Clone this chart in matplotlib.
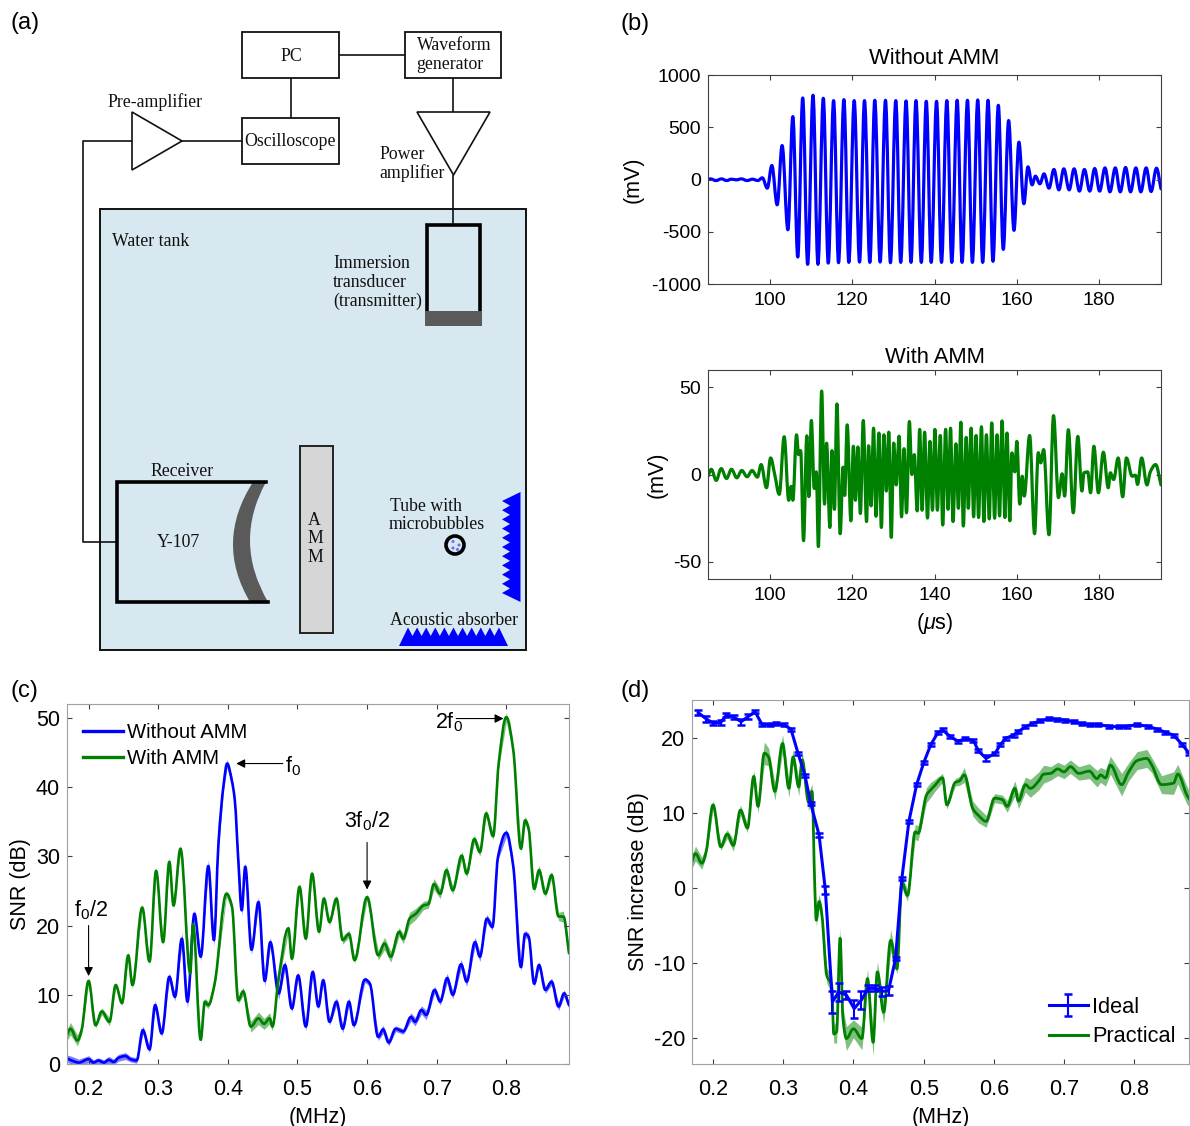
import matplotlib
matplotlib.use('Agg')
import matplotlib.pyplot as plt
from matplotlib.container import ErrorbarContainer
from matplotlib.legend_handler import HandlerErrorbar
from matplotlib.lines import Line2D
from matplotlib.patches import Polygon, Rectangle, Circle, PathPatch
from matplotlib.path import Path

W, H = 1190, 1126
BLUE = '#0000ff'
GREEN = '#008000'
BOX = '#404040'

plt.rcParams['font.family'] = ['Liberation Sans', 'DejaVu Sans']
plt.rcParams['mathtext.fontset'] = 'custom'
plt.rcParams['mathtext.rm'] = 'Liberation Sans'
plt.rcParams['mathtext.it'] = 'Liberation Sans:italic'
plt.rcParams['mathtext.default'] = 'regular'
plt.rcParams['axes.unicode_minus'] = False

# (b) time traces, extrema
without_t = [85, 85.6, 86.9, 88.3, 89.5, 90.7, 91.9, 93.1, 94.5, 95.8, 97.1, 98.2, 99.4, 100.5, 101.8, 103, 104.4, 105.6,
             106.8, 108, 109.2, 110.5, 111.7, 113, 114.2, 115.5, 116.7, 118, 119.2, 120.5, 121.8, 123, 124.3, 125.5,
             126.8, 128.1, 129.3, 130.6, 131.8, 133.1, 134.3, 135.5, 136.8, 138, 139.2, 140.5, 141.7, 143, 144.2,
             145.5, 146.7, 148, 149.2, 150.5, 151.7, 153, 154.2, 155.5, 156.7, 158, 159.3, 160.5, 161.7, 162.7, 163.7,
             164.5, 165.6, 166.6, 167.8, 169, 170.2, 171.4, 172.7, 173.9, 175.2, 176.4, 177.7, 178.9, 180.1, 181.4,
             182.6, 183.9, 185.1, 186.4, 187.6, 188.9, 190.1, 191.4, 192.6, 193.9, 195]
without_mv = [0, 6, -10, 6, -10, 3, -3, 6, -10, 3, -10, 16, -83, 134, -242, 325, -481, 602,
              -742, 780, -812, 806, -812, 777, -800, 755, -796, 764, -793, 755, -790, 755, -793, 758,
              -790, 758, -796, 755, -793, 752, -793, 755, -793, 748, -793, 748, -793, 755, -793,
              758, -793, 758, -793, 761, -793, 758, -783, 710, -669, 564, -487, 357, -232, 121, -51,
              32, -41, 54, -83, 96, -99, 102, -99, 102, -111, 96, -111, 105, -111, 111,
              -118, 111, -118, 115, -118, 111, -118, 111, -115, 108, -89]

with_t = [85, 85.8, 87, 88.2, 89.5, 90.7, 92, 93.2, 94.5, 95.7, 97, 97.9, 99.2, 100.2, 101.2, 102.3, 103.5, 104.6, 105.2,
          105.6, 106.5, 107, 107.5, 108.2, 109, 109.5, 110.1, 110.8, 111.3, 111.8, 112.6, 113.3, 113.8, 114.6, 115.1,
          115.7, 116.3, 117.1, 117.8, 118.2, 118.8, 119.7, 120.3, 120.8, 121.4, 122, 122.7, 123.5, 124, 124.6, 125.2,
          125.8, 126.5, 127.1, 127.7, 128.3, 128.9, 129.5, 130.1, 130.7, 131.4, 132, 132.6, 133.2, 133.9, 134.5, 135.1,
          135.8, 136.4, 137, 137.6, 138.3, 138.9, 139.5, 140.1, 140.7, 141.4, 142, 142.7, 143.3, 143.9, 144.5, 145.2,
          145.8, 146.4, 147, 147.7, 148.2, 148.9, 149.5, 150.1, 150.7, 151.4, 152, 152.6, 153.3, 153.9, 154.6, 155.2,
          155.8, 156.4, 157.1, 157.6, 158.3, 158.8, 159.5, 160, 160.7, 161.3, 161.8, 163.1, 164.3, 165.2, 165.8, 166.5,
          167.8, 168.9, 170.1, 171, 171.6, 172.5, 173.7, 174.8, 175.8, 176.3, 177.2, 177.9, 178.7, 179.8, 181, 182.2,
          182.7, 183.5, 184.6, 185.7, 186.6, 188, 188.8, 189.3, 190.3, 191.6, 192.4, 193.7, 195]
with_mv = [-1, 3, -3.4, 3.4, -2.3, 3, -1.9, 2.3, -1.3, 2.3, -1.5, 5.7, -7.6, 9.5, 0, -11.4, 21.7, -14.8, -6.8,
           -14.8, 22.8, 11.4, 13.7, -38, 22.2, -12.7, 31, -8, 1.5, -41.4, 47.9, -17, 18, -30.4, 13.7,
           -20, 40.5, -34, 4.2, -12, 28.5, -26.6, 16.2, -14.8, 15.8, -22.4, 31, -27, 16.5, -18, 26.6,
           -24, 23.8, -30.4, 22.8, -9.5, 24.3, -36.1, 18, -6, 22, -24.3, 14.8, -22, 30.4, 0, 11.4,
           -20.9, 25.9, -20.5, 24.3, -25, 19, -20.5, 25.9, -20.5, 22.4, -29, 25.9, -20, 26.6, -27, 17.6,
           -19.4, 30, -29.6, 21.3, -19.4, 26.6, -24.3, 22.4, -24.7, 27.4, -27, 22.8, -25.5, 29.6, -25.1, 22.8,
           -23.8, 30.8, -24.7, 23.8, -26.6, 12.4, 1.5, 19, -17, -1, -12.4, 22.4, -34, 12.5, 6.7, 14.3,
           -34.6, 33.8, -13.3, 0.4, -12.4, 25.7, -22, 21.9, -9.5, 1, 1.5, -10.5, 16.2, -10.5, 12.8, -7.6,
           1, -2.9, 9.5, -12.8, 9.5, -1, -0.4, -5.7, 9.5, -6, 1.5, 5.7, -6]

# (c) SNR spectra
snr_without_f = [.169, .176, .186, .2, .207, .214, .222, .229, .236, .243,
                 .253, .26, .269, .278, .2875, .2956, .305, .316, .324, .334,
                 .342, .352, .361, .372, .38, .3865, .394, .399, .4056, .41, .415, .42, .425, .434,
                 .444, .453, .461, .473, .482, .492, .501, .512, .522, .53,
                 .537, .546, .556, .565, .574, .581, .597, .604, .616, .623,
                 .631, .641, .652, .663, .669, .678, .685, .697, .705, .715,
                 .723, .735, .743, .755, .762, .772, .78, .788, .8, .81,
                 .821, .827, .832, .84, .847, .856, .865, .875, .883, .89]
snr_without = [.8, .5, .2, .7, .2, .5, .2, .6, .3, .9,
               1.15, .7, .5, 4.9, 2.1, 8.5, 4.4, 12.6, 9.7, 18.1,
               9, 21.7, 15.5, 28.6, 17.9, 31.8, 40.4, 43.4, 41, 38.1, 29.5, 22.2, 28.5, 16.5,
               23.4, 12, 17.6, 10.2, 14.3, 8, 12.8, 5.4, 13.3, 8.3,
               12.1, 6.1, 9, 5.1, 9, 5.6, 12.2, 11.6, 3.9, 5,
               3.1, 5.1, 4.7, 6.8, 6.1, 7.8, 7.1, 10.7, 9, 12.4,
               10, 14.4, 11.9, 17.6, 15.5, 21, 19.8, 29.9, 33.4, 28.5,
               14, 18.8, 18.4, 11.6, 14.3, 10.7, 11.9, 8.3, 10.2, 8.5]
snr_without_err = [.5, .6, .5, .5, .4, .4, .4, .5, .4, .5,
                   .5, .4, .4, .6, .5, .7, .5, .6, .6, .9,
                   1, .6, .6, .9, 1, .7, .6, .6, .6, .6, .8, .8, .6, .7,
                   .7, .8, .7, .9, .7, .5, .5, .6, .5, .5,
                   .5, .5, .6, .6, .6, .5, .4, .4, .5, .6,
                   .5, .4, .4, .6, .6, .6, .7, .5, .5, .7,
                   .6, .7, .7, .7, .7, .6, .5, .4, .6, .5,
                   .6, .5, .5, .5, .5, .5, .5, .6, .5, .5]

snr_with_f = [.169, .174, .184, .19, .2, .21, .219, .23, .239, .248,
              .257, .263, .277, .2875, .297, .307, .316, .322, .332, .346,
              .35, .361, .367, .372, .381, .398, .406, .415, .422, .433,
              .444, .452, .46, .464, .473, .487, .492, .503, .512, .521,
              .531, .538, .546, .556, .565, .574, .582, .6, .616, .625,
              .634, .646, .652, .661, .67, .681, .688, .696, .705, .714,
              .723, .736, .743, .754, .762, .771, .781, .789, .8, .81,
              .821, .827, .832, .84, .847, .856, .865, .875, .882, .89]
snr_with = [4.2, 5.1, 3.4, 4.9, 12, 5.6, 7.6, 6.1, 11.4, 8.8,
            15.7, 11.4, 22.6, 14.8, 27.9, 17.6, 29.2, 22.9, 31.1, 13.1,
            20.2, 3.5, 9, 8.5, 11.6, 24.6, 22.7, 9.2, 10.5, 5.4,
            6.6, 5.8, 6.6, 5.4, 12.4, 19.6, 15.2, 25.6, 18.1, 27.5,
            19.1, 23.9, 20.5, 23.9, 17.9, 18.8, 15, 24.1, 15.7, 17.4,
            15.5, 19.1, 18.1, 21, 21.7, 22.9, 23.1, 26, 24.6, 28,
            25.1, 30.1, 27.5, 32.5, 30.6, 36.2, 32.9, 43.4, 50.1, 45.3,
            31.1, 35.2, 34, 25.3, 28, 24.6, 27.3, 21.3, 21.3, 16]
snr_with_err = [.8, .9, .8, .6, .4, .4, .5, .6, .4, .4,
                .5, .5, .5, .5, .5, .5, .6, .5, .5, .5,
                .5, .5, .5, .5, .5, .5, .5, .5, .6, .8,
                .9, .8, .8, .6, .5, .5, .5, .5, .5, .5,
                .5, .5, .5, .5, .6, .5, .5, .5, .7, .9,
                .8, .6, .7, .9, .8, .6, .6, .8, .7, .7,
                .6, .6, .6, .6, .6, .6, .5, .5, .7, .5,
                .5, .6, .5, .6, .7, .5, .6, .6, .8, .8]

# (d) SNR increase
ideal_f = [.179, .19, .2, .211, .219, .23, .24, .25, .26, .27,
           .281, .29, .301, .311, .321, .331, .339, .351, .36, .37,
           .379, .39, .401, .411, .421, .431, .441, .45, .46, .469,
           .479, .49, .5, .51, .52, .527, .538, .549, .559, .571,
           .578, .589, .602, .609, .617, .628, .635, .645, .656, .666,
           .678, .69, .702, .714, .726, .737, .749, .764, .778, .79,
           .804, .819, .833, .844, .856, .868, .878]
ideal = [23.4, 22.6, 22, 22.1, 23.1, 22.8, 22.2, 22.9, 23.5, 21.8,
         21.8, 21.9, 21.8, 21.2, 18, 15, 11.3, 7.1, -.3, -15.2,
         -13.9, -14.3, -16.1, -15, -13.4, -13.4, -13.8, -13.7, -9.4, 1.3,
         8.9, 13.8, 16.7, 19.1, 20.7, 21.1, 20.2, 19.6, 19.9, 19.7,
         18.3, 17.3, 18, 19.1, 20, 20.4, 20.9, 21.5, 22, 22.3,
         22.6, 22.5, 22.4, 22.2, 21.9, 21.8, 21.8, 21.6, 21.5, 21.6,
         21.8, 21.6, 21.2, 20.8, 20.4, 19.2, 18]
ideal_err = [.3, .4, .3, .3, .3, .3, .4, .3, .2, .2,
             .2, .2, .2, .2, .2, .2, .2, .3, .5, 1.5,
             1.2, .5, 1.2, 1.2, .4, .4, .6, .6, .2, .2,
             .2, .2, .2, .2, .2, .2, .2, .2, .2, .2,
             .2, .4, .2, .2, .2, .2, .2, .2, .2, .2,
             .2, .2, .2, .2, .2, .2, .2, .2, .2, .2,
             .2, .2, .2, .2, .2, .2, .2]

practical_f = [.169, .175, .184, .19, .2, .211, .22, .229, .239, .249,
               .258, .264, .273, .279, .288, .299, .308, .314, .322, .327,
               .336, .341, .345, .347, .351, .355, .362, .369, .372, .376,
               .381, .385, .39, .4, .412, .42, .428, .434, .443, .453,
               .462, .469, .477, .488, .492, .504, .51, .516, .527, .533,
               .545, .551, .558, .57, .578, .589, .601, .612, .619, .63,
               .635, .645, .652, .664, .671, .681, .691, .7, .709, .721,
               .736, .747, .752, .759, .766, .782, .792, .804, .818, .825,
               .839, .856, .862, .875, .879]
practical = [3.3, 4.6, 3.3, 4.8, 11.1, 5.5, 7.2, 5.7, 10.4, 8,
             14.9, 10.9, 18, 17.5, 12.9, 19.3, 13.3, 17.5, 13.5, 17.1,
             11.5, 12.9, -.1, -4.3, -1.8, -3.6, -11.7, -13, -19.5, -19.2,
             -6.7, -17.4, -20.1, -18.8, -20.1, -12.1, -20.6, -11.2, -16.6, -7,
             -10.8, .8, -1, 7.5, 7.3, 12.4, 13.1, 13.7, 14.7, 11.1,
             14.1, 14.3, 15.1, 10.6, 9.7, 8.9, 12, 11.8, 10.9, 13.3,
             11.6, 13.8, 13.3, 14.3, 15.2, 15.3, 15.9, 15.5, 16.2, 15.3,
             15.6, 14.6, 15.1, 14.7, 16.4, 13.8, 15.5, 17, 17.3, 16.4,
             13.8, 14, 15.2, 12.4, 11.8]
practical_err = [.8, 1, .8, .6, .6, .5, .6, .8, .7, .6,
                 .8, .9, 1.5, 1.2, 1.2, 1.2, 1.2, 1, 1.2, 1.1,
                 1.2, 1, .8, .8, 1, 1, 1, 1.2, 1.2, 1.5,
                 1.4, 1.5, 1.6, 1.2, 1.5, 1.3, 1.8, 1.4, 1.5, 1.5,
                 .7, .8, .8, 1, 1, 1, 1, .8, .6, .6,
                 .5, .6, 1, 1, 1, .8, .6, .6, .8, 1,
                 1, 1, 1.2, 1.2, 1.2, .9, .9, .9, .9, .9,
                 1, 1.1, 1, 1.1, 1.2, 1.5, 1.2, 1.2, 1.2, 1,
                 1.2, 1.5, 1.3, 1.2, 1]


def px_axes(left, top, right, bottom):
    return fig.add_axes([left / W, 1 - bottom / H, (right - left) / W, (bottom - top) / H])


def style_axes(ax, box=BOX, size=14, xpad=6):
    for s in ax.spines.values():
        s.set_color(box)
        s.set_linewidth(0.8)
    ax.tick_params(direction='in', top=True, right=True, length=3.5, width=0.8, color=BOX,
                   labelsize=size, pad=5)
    ax.tick_params(axis='x', pad=xpad)


def band(ax, f, v, e, color):
    lo = [a - b for a, b in zip(v, e)]
    hi = [a + b for a, b in zip(v, e)]
    ax.fill_between(f, lo, hi, color=color, alpha=0.5, lw=0)


def smooth_line(ax, x, y, color, lw):
    # bezier segments through the read values only, flat at each extremum
    n = len(x)
    sec = [(y[i + 1] - y[i]) / (x[i + 1] - x[i]) for i in range(n - 1)]
    slope = [sec[0]]
    for a, b in zip(sec[:-1], sec[1:]):
        slope.append(0 if a * b <= 0 else 2 * a * b / (a + b))
    slope.append(sec[-1])
    verts = [(x[0], y[0])]
    codes = [Path.MOVETO]
    for i in range(n - 1):
        d = (x[i + 1] - x[i]) * 0.36
        verts += [(x[i] + d, y[i] + slope[i] * d), (x[i + 1] - d, y[i + 1] - slope[i + 1] * d), (x[i + 1], y[i + 1])]
        codes += [Path.CURVE4, Path.CURVE4, Path.CURVE4]
    ax.add_patch(PathPatch(Path(verts, codes), fc='none', ec=color, lw=lw, capstyle='round', joinstyle='round'))


def note(ax, xy, xytext):
    ax.annotate('', xy=xy, xytext=xytext,
                arrowprops=dict(arrowstyle='-|>', color='k', lw=0.8, mutation_scale=13, shrinkA=0, shrinkB=0))


fig = plt.figure(figsize=(W / 100, H / 100), dpi=100)

# ---- schematic, drawn in pixel coordinates of the figure
sk = fig.add_axes([0, 0, 1, 1])
sk.set_xlim(0, W)
sk.set_ylim(H, 0)
sk.axis('off')

sk.add_patch(Rectangle((100, 209), 425.5, 441, fc='#d8e8f1', ec='#111111', lw=1.4))
for x, y, w, h in [(242, 32, 97, 46), (405, 32, 96, 46), (242, 118, 97, 46)]:
    sk.add_patch(Rectangle((x, y), w, h, fc='white', ec='#111111', lw=1.3))
sk.add_patch(Polygon([(132, 112), (132, 170), (182, 141)], fc='white', ec='#111111', lw=1.2))
sk.add_patch(Polygon([(417, 112), (490, 112), (453.5, 175)], fc='white', ec='#111111', lw=1.2))
wires = [([182, 242], [141, 141]), ([132, 83, 83, 117], [141, 141, 542, 542]), ([291, 291], [78, 118]),
         ([339, 405], [55, 55]), ([453, 453], [78, 112]), ([453, 453], [175, 224])]
for xs, ys in wires:
    sk.plot(xs, ys, color='#111111', lw=1.2, solid_capstyle='butt')

# transmitter
sk.add_patch(Rectangle((427, 225), 53, 90, fc='none', ec='black', lw=2.6))
sk.add_patch(Rectangle((424.5, 311), 57.5, 15, fc='#5a5a5a', ec='none'))

# receiver
sk.plot([266, 117, 117, 268], [482, 482, 602, 602], color='black', lw=2.6, solid_joinstyle='miter')
sk.add_patch(PathPatch(Path([(253, 482), (214.5, 542), (250, 602), (268, 602), (233, 542), (266, 482), (253, 482)],
                            [Path.MOVETO, Path.CURVE3, Path.CURVE3, Path.LINETO, Path.CURVE3, Path.CURVE3,
                             Path.CLOSEPOLY]), fc='#5a5a5a', ec='none'))

# AMM block, tube
sk.add_patch(Rectangle((300, 446), 32.5, 187, fc='#d6d6d6', ec='#222222', lw=1.4))
sk.add_patch(Circle((455, 545), 9, fc='#d8e8f1', ec='black', lw=2.6))
for cx, cy in [(453, 541.5), (459, 545), (453, 548), (457.5, 549.5)]:
    sk.add_patch(Circle((cx, cy), 1.5, fc='#6a6aff', ec='none'))

# absorbers
right_teeth = [(520.5, 492)]
for i in range(11):
    right_teeth.append((502, 501 + 9.2 * i))
    if i < 10:
        right_teeth.append((510, 505.6 + 9.2 * i))
right_teeth.append((520.5, 602))
sk.add_patch(Polygon(right_teeth, fc=BLUE, ec='none'))
bottom_teeth = [(399, 646)]
for i in range(11):
    bottom_teeth.append((408 + 9.1 * i, 627.5))
    if i < 10:
        bottom_teeth.append((412.5 + 9.1 * i, 636))
bottom_teeth.append((508, 646))
sk.add_patch(Polygon(bottom_teeth, fc=BLUE, ec='none'))

serif = dict(family='Liberation Serif', fontsize=12.8, color='#111111', va='center')
for s, x, y in [('Pre-amplifier', 107, 102.5), ('Waveform', 417, 45.5), ('generator', 416, 64.5), ('Power', 379, 154.5),
                ('amplifier', 379, 173.5), ('Water tank', 112, 241.5), ('Immersion', 333, 263.5),
                ('transducer', 333, 282.5), ('(transmitter)', 333, 301.5), ('Tube with', 390, 506.5),
                ('microbubbles', 389, 524.5), ('Acoustic absorber', 390, 620.5)]:
    sk.text(x, y, s, ha='left', **serif)
for s, x, y in [('PC', 291, 56.5), ('Oscilloscope', 290, 141.5), ('Receiver', 182, 471.5), ('Y-107', 178, 542.5),
                ('A', 314, 520.5), ('M', 315, 538.5), ('M', 315, 557.5)]:
    sk.text(x, y, s, ha='center', **serif)

for s, x, y in [('(a)', 11, 23), ('(b)', 620, 24), ('(c)', 11, 691), ('(d)', 620, 691)]:
    sk.text(x, y, s, fontsize=17, ha='left', va='center')

# ---- (b)
ax = px_axes(708, 75, 1161, 284)
smooth_line(ax, without_t, without_mv, BLUE, 2.3)
ax.set_xlim(85, 195)
ax.set_ylim(-1000, 1000)
ax.set_xticks([100, 120, 140, 160, 180])
ax.set_yticks([-1000, -500, 0, 500, 1000])
ax.set_title('Without AMM', fontsize=15.8, pad=8)
ax.set_ylabel('(mV)', fontsize=15.5)
ax.yaxis.set_label_coords(-64 / 453, 0.5)
style_axes(ax)

ax = px_axes(708, 370, 1161, 579)
smooth_line(ax, with_t, with_mv, GREEN, 2.3)
ax.set_xlim(85, 195)
ax.set_ylim(-60, 60)
ax.set_xticks([100, 120, 140, 160, 180])
ax.set_yticks([-50, 0, 50])
ax.set_title('With AMM', fontsize=15.8, pad=5)
ax.set_ylabel('(mV)', fontsize=15.5)
ax.yaxis.set_label_coords(-40 / 453, 0.5)
ax.set_xlabel(r'($\mathit{\mu}$s)', fontsize=15.5, labelpad=5)
style_axes(ax)

# ---- (c)
ax = px_axes(67, 704, 569, 1064)
band(ax, snr_without_f, snr_without, snr_without_err, BLUE)
band(ax, snr_with_f, snr_with, snr_with_err, GREEN)
smooth_line(ax, snr_without_f, snr_without, BLUE, 1.9)
smooth_line(ax, snr_with_f, snr_with, GREEN, 1.9)
ax.set_xlim(0.169, 0.89)
ax.set_ylim(0, 52)
ax.set_xticks([.2, .3, .4, .5, .6, .7, .8])
ax.set_xticklabels(['0.2', '0.3', '0.4', '0.5', '0.6', '0.7', '0.8'])
ax.set_yticks([0, 10, 20, 30, 40, 50])
ax.set_xlabel('(MHz)', fontsize=15.5, labelpad=5)
ax.set_ylabel('SNR (dB)', fontsize=15.5)
ax.yaxis.set_label_coords(-36 / 502, 0.5)
style_axes(ax, '#a0a0a0', 15.5, 10.5)
ax.legend(handles=[Line2D([], [], color=BLUE, lw=2.4, label='Without AMM'),
                   Line2D([], [], color=GREEN, lw=2.4, label='With AMM')],
          loc='upper left', bbox_to_anchor=(0.028, 0.953), frameon=False, fontsize=14.6, handlelength=1.95,
          handletextpad=0.2, labelspacing=0.35, borderaxespad=0, borderpad=0.1)
note(ax, (.2, 12.7), (.2, 20))
note(ax, (.412, 43.4), (.479, 43.4))
note(ax, (.6, 25.2), (.6, 32))
note(ax, (.796, 49.9), (.728, 49.9))
for s, x, y in [('f$_0$/2', .204, 22.2), ('f$_0$', .494, 43), ('3f$_0$/2', .6, 35), ('2f$_0$', .717, 49.4)]:
    ax.text(x, y, s, fontsize=15.5, ha='center', va='center')

# ---- (d)
ax = px_axes(692, 700, 1189, 1064)
band(ax, practical_f, practical, practical_err, GREEN)
ideal_bars = ax.errorbar(ideal_f, ideal, yerr=ideal_err, color=BLUE, lw=2.2, elinewidth=1.5, capsize=3, capthick=1.8)
smooth_line(ax, practical_f, practical, GREEN, 2)
ax.set_xlim(0.17, 0.878)
ax.set_ylim(-23.5, 25.1)
ax.set_xticks([.2, .3, .4, .5, .6, .7, .8])
ax.set_xticklabels(['0.2', '0.3', '0.4', '0.5', '0.6', '0.7', '0.8'])
ax.set_yticks([-20, -10, 0, 10, 20])
ax.set_xlabel('(MHz)', fontsize=15.5, labelpad=5)
ax.set_ylabel('SNR increase (dB)', fontsize=15.5)
ax.yaxis.set_label_coords(-43 / 497, 0.5)
style_axes(ax, '#a0a0a0', 15.5, 10.5)
ax.legend([ideal_bars, Line2D([], [], color=GREEN, lw=2.2)], ['Ideal', 'Practical'],
          handler_map={ErrorbarContainer: HandlerErrorbar(yerr_size=0.5)},
          loc='lower right', bbox_to_anchor=(0.977, 0.04), frameon=False, fontsize=15.7, handlelength=1.75,
          handletextpad=0.2, labelspacing=0.38, borderaxespad=0, borderpad=0.1)

fig.savefig('out.png', dpi=100)
